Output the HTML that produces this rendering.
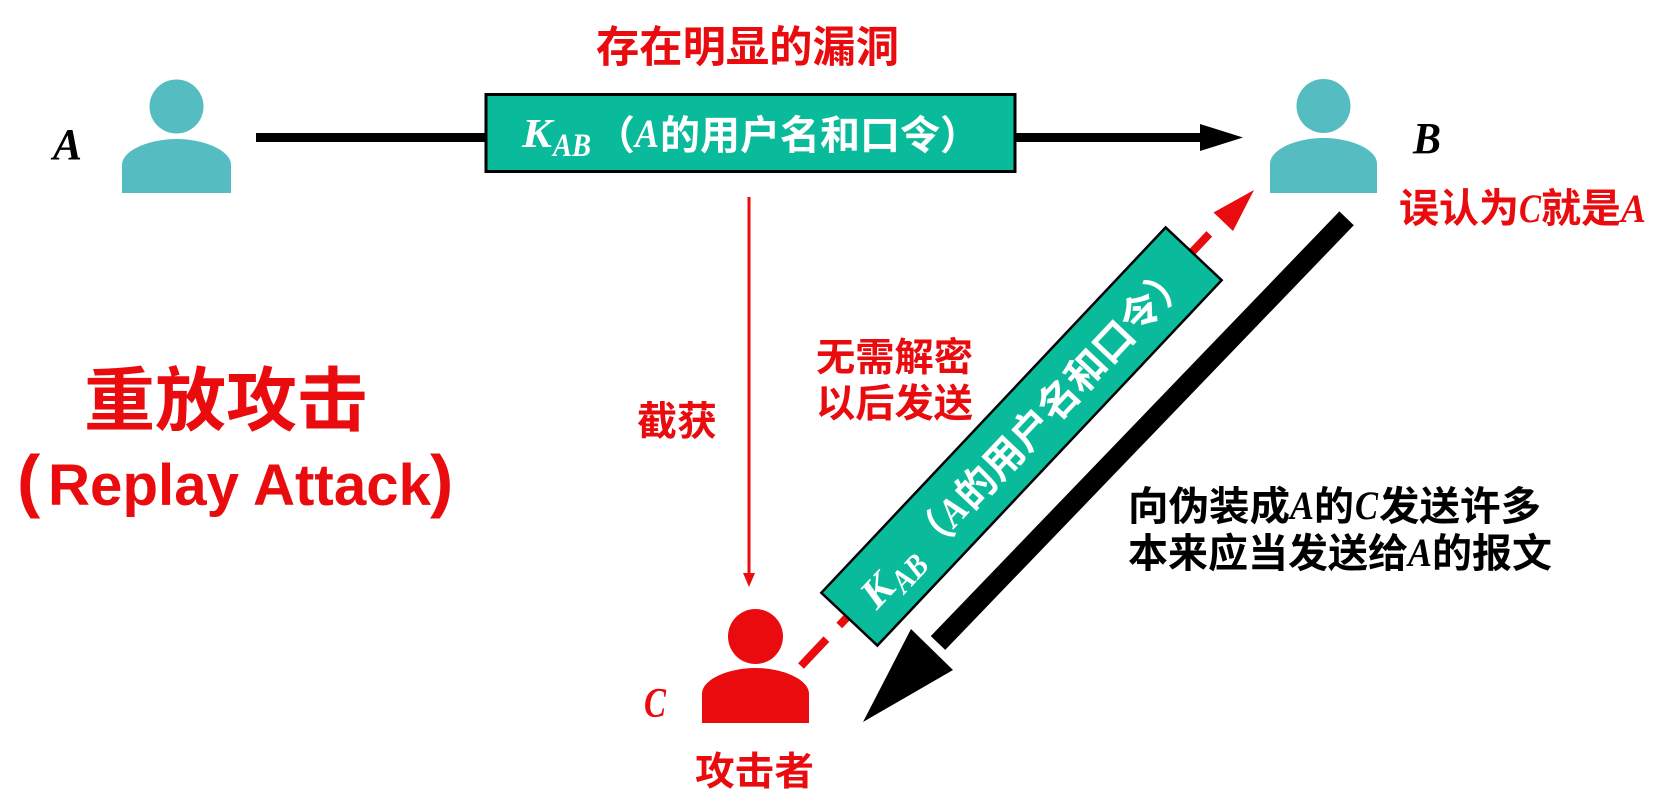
<!DOCTYPE html>
<html><head><meta charset="utf-8"><style>
html,body{margin:0;padding:0;background:#fff;}
svg{display:block;}
.cjk{font-family:"Liberation Sans","Noto Sans CJK SC",sans-serif;font-weight:bold;}
.it{font-family:"Liberation Serif",serif;font-style:italic;font-weight:bold;}
.itb{font-family:"Liberation Serif",serif;font-style:italic;font-weight:bold;}
.sans{font-family:"Liberation Sans",sans-serif;font-weight:bold;}
</style></head><body>
<svg width="1664" height="806" viewBox="0 0 1664 806" xmlns="http://www.w3.org/2000/svg">
<rect width="1664" height="806" fill="#fff"/>

<!-- Persons -->
<g fill="#55BCC2">
  <circle cx="176.5" cy="106.5" r="27"/>
  <path d="M122,193 V165 C122,150 150,139 176.5,139 C203,139 231,150 231,165 V193 Z"/>
  <circle cx="1323.5" cy="106" r="27"/>
  <path d="M1270,193 V164 C1270,149 1297,138 1323.5,138 C1350,138 1377,149 1377,164 V193 Z"/>
</g>
<g fill="#E90B0E">
  <circle cx="755.5" cy="636.5" r="27.5"/>
  <path d="M702,723 V694 C702,679 729,668 755.5,668 C782,668 809,679 809,694 V723 Z"/>
</g>

<!-- A -> B line -->
<line x1="256" y1="137.5" x2="1203" y2="137.5" stroke="#000" stroke-width="9"/>
<polygon points="1200,124 1243,137.5 1200,151" fill="#000"/>

<!-- Top box -->
<rect x="486" y="94.5" width="529" height="77" fill="#0ABB9B" stroke="#000" stroke-width="3"/>
<g fill="#fff">
  <text class="it" x="522" y="147" font-size="41" textLength="30" lengthAdjust="spacingAndGlyphs">K</text>
  <text class="it" x="553" y="156" font-size="33" textLength="38" lengthAdjust="spacingAndGlyphs">AB</text>
  <text class="cjk" x="595" y="149" font-size="40">（</text>
  <text class="it" x="635" y="147" font-size="40" textLength="24" lengthAdjust="spacingAndGlyphs">A</text>
  <text class="cjk" x="660" y="149" font-size="40" textLength="280" lengthAdjust="spacingAndGlyphs">的用户名和口令</text>
  <text class="cjk" x="940" y="149" font-size="40">）</text>
</g>

<!-- Title -->
<text class="cjk" x="596" y="62" font-size="43" fill="#E90B0E" textLength="303" lengthAdjust="spacingAndGlyphs">存在明显的漏洞</text>

<!-- red vertical intercept arrow -->
<line x1="749" y1="197" x2="749" y2="576" stroke="#E90B0E" stroke-width="3"/>
<polygon points="743,573 755,573 749,587" fill="#E90B0E"/>

<!-- red dashed C -> B -->
<line x1="801" y1="666" x2="1221" y2="221.5" stroke="#E90B0E" stroke-width="8" stroke-dasharray="37 18.75"/>
<polygon points="1254,190 1213.5,212.5 1233,231" fill="#E90B0E"/>

<!-- rotated box -->
<g transform="translate(1021.5,436.5) rotate(-46.7)">
  <rect x="-251" y="-38.5" width="502" height="77" fill="#0ABB9B" stroke="#000" stroke-width="2.5"/>
  <g fill="#fff">
    <text class="it" x="-226" y="14" font-size="41" textLength="30" lengthAdjust="spacingAndGlyphs">K</text>
    <text class="it" x="-195" y="23" font-size="33" textLength="38" lengthAdjust="spacingAndGlyphs">AB</text>
    <text class="cjk" x="-153" y="16" font-size="40">（</text>
    <text class="it" x="-113" y="14" font-size="40" textLength="24" lengthAdjust="spacingAndGlyphs">A</text>
    <text class="cjk" x="-88" y="16" font-size="40" textLength="280" lengthAdjust="spacingAndGlyphs">的用户名和口令</text>
    <text class="cjk" x="192" y="16" font-size="40">）</text>
  </g>
</g>

<!-- black thick arrow B -> C -->
<line x1="1346.6" y1="218.3" x2="938" y2="643" stroke="#000" stroke-width="20"/>
<polygon points="863,722 911,629 953,670" fill="#000"/>

<!-- labels -->
<text class="itb" x="53" y="159" font-size="44" fill="#000" textLength="29" lengthAdjust="spacingAndGlyphs">A</text>
<text class="itb" x="1413" y="153" font-size="44" fill="#000" textLength="28" lengthAdjust="spacingAndGlyphs">B</text>
<text class="itb" x="644" y="717" font-size="42" fill="#E90B0E" textLength="22" lengthAdjust="spacingAndGlyphs">C</text>

<!-- 误认为C就是A -->
<g fill="#E90B0E">
  <text class="cjk" x="1399" y="222" font-size="40" textLength="120" lengthAdjust="spacingAndGlyphs">误认为</text>
  <text class="itb" x="1519" y="222" font-size="40" textLength="22" lengthAdjust="spacingAndGlyphs">C</text>
  <text class="cjk" x="1541" y="222" font-size="40" textLength="80" lengthAdjust="spacingAndGlyphs">就是</text>
  <text class="itb" x="1621" y="222" font-size="40" textLength="25" lengthAdjust="spacingAndGlyphs">A</text>
</g>

<!-- left title -->
<g fill="#E90B0E">
  <text class="cjk" x="84" y="425" font-size="70" textLength="284" lengthAdjust="spacingAndGlyphs">重放攻击</text>
  <text class="sans" x="17" y="504" font-size="70">(</text>
  <text class="sans" x="48" y="505" font-size="58" textLength="383" lengthAdjust="spacingAndGlyphs">Replay Attack</text>
  <text class="sans" x="430" y="504" font-size="70">)</text>
</g>

<!-- middle red texts -->
<g fill="#E90B0E">
  <text class="cjk" x="637" y="435" font-size="40" textLength="80" lengthAdjust="spacingAndGlyphs">截获</text>
  <text class="cjk" x="816" y="371" font-size="39" textLength="157" lengthAdjust="spacingAndGlyphs">无需解密</text>
  <text class="cjk" x="816" y="417" font-size="39" textLength="157" lengthAdjust="spacingAndGlyphs">以后发送</text>
  <text class="cjk" x="695" y="785" font-size="39" textLength="119" lengthAdjust="spacingAndGlyphs">攻击者</text>
</g>

<!-- black right texts -->
<g fill="#000">
  <text class="cjk" x="1128" y="520" font-size="40" textLength="162" lengthAdjust="spacingAndGlyphs">向伪装成</text>
  <text class="itb" x="1290" y="519" font-size="40" textLength="24" lengthAdjust="spacingAndGlyphs">A</text>
  <text class="cjk" x="1314" y="520" font-size="40" textLength="40" lengthAdjust="spacingAndGlyphs">的</text>
  <text class="itb" x="1355" y="519" font-size="40" textLength="23" lengthAdjust="spacingAndGlyphs">C</text>
  <text class="cjk" x="1379" y="520" font-size="40" textLength="162" lengthAdjust="spacingAndGlyphs">发送许多</text>

  <text class="cjk" x="1128" y="567" font-size="40" textLength="280" lengthAdjust="spacingAndGlyphs">本来应当发送给</text>
  <text class="itb" x="1408" y="566" font-size="40" textLength="24" lengthAdjust="spacingAndGlyphs">A</text>
  <text class="cjk" x="1432" y="567" font-size="40" textLength="120" lengthAdjust="spacingAndGlyphs">的报文</text>
</g>
</svg>
</body></html>
